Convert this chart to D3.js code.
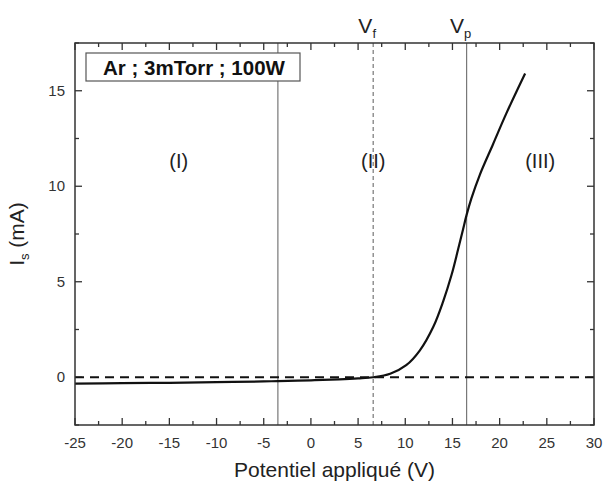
<!DOCTYPE html>
<html><head><meta charset="utf-8">
<script src="https://cdn.jsdelivr.net/npm/d3@7"></script>
<style>body{margin:0;background:#fff}text{font-family:"Liberation Sans",Arial,sans-serif}</style>
</head><body><svg id="c" width="603" height="486"></svg>
<script>
const voltage = [-25,-20,-15,-10,-5,-3.5,0,3,5,6.6,8.4,10.1,11.55,12.96,14.0,14.9,15.6,16.1,16.5,17.0,17.9,19.3,20.7,22.7];
const current = [-0.33,-0.31,-0.29,-0.26,-0.22,-0.2,-0.16,-0.11,-0.06,0,0.18,0.63,1.41,2.63,3.95,5.35,6.7,7.7,8.5,9.35,10.6,12.2,13.8,15.9];
const xTicks = [-25,-20,-15,-10,-5,0,5,10,15,20,25,30];
const yTicks = [0,5,10,15];
const regionLines = [-3.5, 6.6, 16.5];
const regionLabels = ["(I)","(II)","(III)"];
const regionLabelX = [-14, 6.6, 24.3];
const legendText = "Ar ; 3mTorr ; 100W";

const svg = d3.select("#c");
const L=75,R=594,T=43,B=425;
const x = d3.scaleLinear().domain([-25,30]).range([L,R]);
const y = d3.scaleLinear().domain([-2.5,17.5]).range([B,T]);
const axisCol="#333";

const g = svg.append("g");
const major=7, minor=4;
const xMinor = d3.range(-22.5,30,5);
const yMinor = d3.range(-2.5,17.6,5);
function vt(v,len){ g.append("line").attr("x1",x(v)).attr("x2",x(v)).attr("y1",B).attr("y2",B-len).attr("stroke",axisCol).attr("stroke-width",1.3);
  g.append("line").attr("x1",x(v)).attr("x2",x(v)).attr("y1",T).attr("y2",T+len).attr("stroke",axisCol).attr("stroke-width",1.3);}
function ht(v,len){ g.append("line").attr("y1",y(v)).attr("y2",y(v)).attr("x1",L).attr("x2",L+len).attr("stroke",axisCol).attr("stroke-width",1.3);
  g.append("line").attr("y1",y(v)).attr("y2",y(v)).attr("x1",R).attr("x2",R-len).attr("stroke",axisCol).attr("stroke-width",1.3);}
xTicks.forEach(v=>vt(v,major)); xMinor.forEach(v=>vt(v,minor));
yTicks.forEach(v=>ht(v,major)); yMinor.forEach(v=>ht(v,minor));

svg.selectAll(".xl").data(xTicks).enter().append("text").attr("x",d=>x(d)).attr("y",B+23)
  .attr("text-anchor","middle").attr("font-size",15).attr("fill","#333").text(d=>d);
svg.selectAll(".yl").data(yTicks).enter().append("text").attr("x",L-10).attr("y",d=>y(d)+5)
  .attr("text-anchor","end").attr("font-size",15).attr("fill","#333").text(d=>d);

svg.selectAll(".rl").data(regionLines).enter().append("line")
  .attr("x1",d=>x(d)).attr("x2",d=>x(d)).attr("y1",T).attr("y2",B)
  .attr("stroke","#777").attr("stroke-width",1.2)
  .attr("stroke-dasharray",(d,i)=>i===1?"4,3":null);

svg.append("line").attr("x1",L).attr("x2",R).attr("y1",y(0)).attr("y2",y(0))
  .attr("stroke","#111").attr("stroke-width",2).attr("stroke-dasharray","9,6");

const line = d3.line().x((d,i)=>x(voltage[i])).y((d,i)=>y(current[i])).curve(d3.curveCatmullRom.alpha(0.5));
svg.append("path").datum(current).attr("d",line).attr("fill","none").attr("stroke","#111").attr("stroke-width",2.2);

svg.append("rect").attr("x",L).attr("y",T).attr("width",R-L).attr("height",B-T)
  .attr("fill","none").attr("stroke",axisCol).attr("stroke-width",1.5);

svg.selectAll(".rt").data(regionLabels).enter().append("text")
  .attr("x",(d,i)=>x(regionLabelX[i])).attr("y",y(11.3)+7).attr("text-anchor","middle")
  .attr("font-size",20).attr("fill","#222").text(d=>d);

svg.append("rect").attr("x",86).attr("y",53).attr("width",214).attr("height",28)
  .attr("fill","#fff").attr("stroke","#555").attr("stroke-width",1.2);
svg.append("text").attr("x",194).attr("y",74.5).attr("text-anchor","middle")
  .attr("font-size",20.5).attr("font-weight","bold").attr("fill","#111").text(legendText);

function vlabel(v,sub){
  const t=svg.append("text").attr("x",x(v)-6).attr("y",33).attr("text-anchor","middle").attr("font-size",21).attr("fill","#222");
  t.append("tspan").text("V");
  t.append("tspan").attr("font-size",13).attr("dy",5).text(sub);
}
vlabel(regionLines[1],"f");
vlabel(regionLines[2],"p");

svg.append("text").attr("x",(L+R)/2).attr("y",477).attr("text-anchor","middle").attr("font-size",21).attr("fill","#222").text("Potentiel appliqué (V)");
const yt=svg.append("text").attr("transform",`translate(24,${(T+B)/2}) rotate(-90)`).attr("text-anchor","middle").attr("font-size",21).attr("fill","#222");
yt.append("tspan").text("I");
yt.append("tspan").attr("font-size",13).attr("dy",5).text("s");
yt.append("tspan").attr("dy",-5).text(" (mA)");
</script></body></html>
